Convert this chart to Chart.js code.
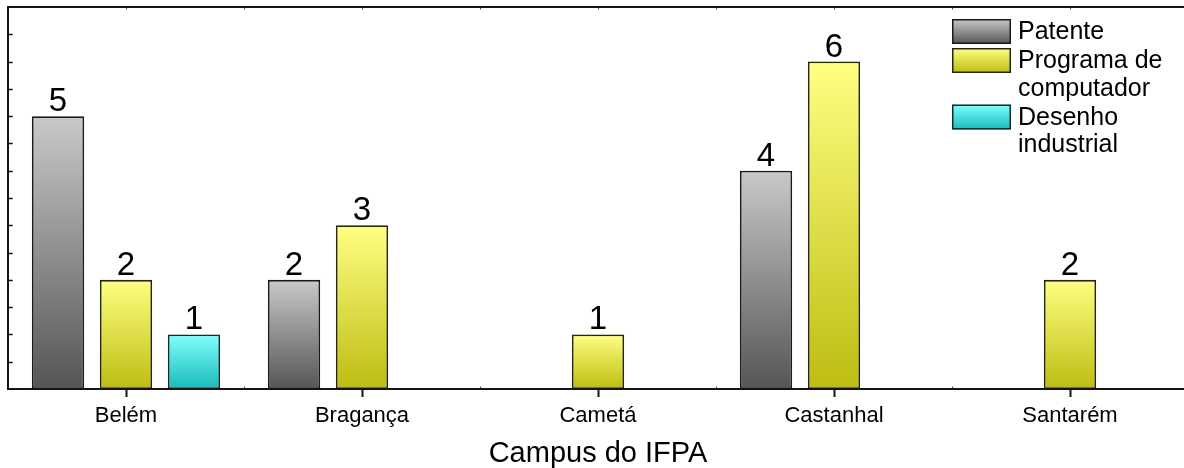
<!DOCTYPE html>
<html lang="pt">
<head>
<meta charset="utf-8">
<title>Registros por campus do IFPA</title>
<script src="https://cdn.jsdelivr.net/npm/chart.js@4.4.1/dist/chart.umd.min.js"></script>
<style>
  html, body { margin: 0; padding: 0; background: #ffffff; overflow: hidden; }
  #wrap { position: absolute; left: 0; top: 0; width: 1190px; height: 468px; }
</style>
</head>
<body>
<div id="wrap"><canvas id="chart" width="1190" height="468"></canvas></div>
<script>
// Campuses on the category axis
const campuses = ['Belém', 'Bragança', 'Cametá', 'Castanhal', 'Santarém'];

// Number of registrations per campus, one array per type (null = no bar)
const patente = [5, 2, null, 4, null];
const programaComputador = [2, 3, 1, 6, 2];
const desenhoIndustrial = [1, null, null, null, null];

// Series names, split into the lines shown in the legend
const seriesNames = [['Patente'], ['Programa de', 'computador'], ['Desenho', 'industrial']];

// Value axis range and the spacing of its minor tick marks
const yMin = 0;
const yMax = 7;
const yTickStep = 0.5;

const FONT = 'Arial, "Liberation Sans", Helvetica, sans-serif';
const INK = '#141414';

// Vertical gradient fills: light at the top of each bar, dark at the base
const palettes = [
  { top: '#c9c9c9', bottom: '#555555', edge: '#1a1a1a' },
  { top: '#ffff82', bottom: '#bdbd12', edge: '#26260a' },
  { top: '#80ffff', bottom: '#1bbaba', edge: '#0d2e2e' }
];

function barGradient(pal) {
  return (ctx) => {
    const chart = ctx.chart;
    if (!chart.chartArea || ctx.type !== 'data' || ctx.raw == null) return pal.top;
    const y = chart.scales.y;
    const top = y.getPixelForValue(ctx.raw);
    const base = y.getPixelForValue(0);
    const g = chart.ctx.createLinearGradient(0, top, 0, base);
    g.addColorStop(0, pal.top);
    g.addColorStop(1, pal.bottom);
    return g;
  };
}

const seriesValues = [patente, programaComputador, desenhoIndustrial];

const datasets = seriesValues.map((values, i) => ({
  label: seriesNames[i].join(' '),
  data: values,
  backgroundColor: barGradient(palettes[i]),
  borderColor: palettes[i].edge,
  borderWidth: 1.8,
  borderSkipped: false,
  categoryPercentage: 0.864,
  barPercentage: 0.77
}));

// Frame: left, top and bottom axis lines with their small tick marks
const framePlugin = {
  id: 'frame',
  afterDraw(chart) {
    const { ctx, chartArea: a, scales } = chart;
    const x = scales.x, y = scales.y;
    ctx.save();
    ctx.strokeStyle = INK;
    ctx.lineCap = 'square';

    // minor ticks on the value axis, pointing into the plot
    ctx.lineWidth = 1.5;
    for (let v = yMin + yTickStep; v < yMax; v += yTickStep) {
      const py = Math.round(y.getPixelForValue(v)) + 0.5;
      ctx.beginPath();
      ctx.moveTo(a.left, py);
      ctx.lineTo(a.left + 4, py);
      ctx.stroke();
    }

    // tiny marks along the top line and at category boundaries on the base line
    ctx.strokeStyle = '#555555';
    ctx.lineWidth = 1;
    for (let i = 0; i < campuses.length; i++) {
      const c = x.getPixelForValue(i);
      const half = x.width / campuses.length / 2;
      [c - half, c].forEach((px) => {
        const rx = Math.round(px) + 0.5;
        ctx.beginPath();
        ctx.moveTo(rx, a.top);
        ctx.lineTo(rx, a.top + 2);
        ctx.stroke();
      });
      const bx = Math.round(c - half) + 0.5;
      if (i > 0) {
        ctx.beginPath();
        ctx.moveTo(bx, a.bottom);
        ctx.lineTo(bx, a.bottom - 2);
        ctx.stroke();
      }
    }

    // axis lines
    ctx.strokeStyle = INK;
    ctx.lineWidth = 2;
    ctx.lineCap = 'butt';
    ctx.beginPath();
    ctx.moveTo(a.left, a.bottom);
    ctx.lineTo(a.left, a.top);
    ctx.lineTo(chart.width, a.top);
    ctx.moveTo(a.left - 1, a.bottom);
    ctx.lineTo(chart.width, a.bottom);
    ctx.stroke();
    ctx.restore();
  }
};

// Value written above every bar
const valueLabelPlugin = {
  id: 'valueLabels',
  afterDatasetsDraw(chart) {
    const { ctx } = chart;
    ctx.save();
    ctx.font = '33px ' + FONT;
    ctx.fillStyle = '#000000';
    ctx.textAlign = 'center';
    ctx.textBaseline = 'alphabetic';
    chart.data.datasets.forEach((ds, di) => {
      const meta = chart.getDatasetMeta(di);
      meta.data.forEach((bar, i) => {
        const v = ds.data[i];
        if (v == null) return;
        ctx.fillText(String(v), bar.x, bar.y - 5);
      });
    });
    ctx.restore();
  }
};

// Legend in the upper right corner with gradient swatches and wrapped names
const legendPlugin = {
  id: 'boxLegend',
  afterDraw(chart) {
    const { ctx } = chart;
    const boxLeft = 952, boxW = 59, boxH = 25;
    const textLeft = 1018;
    const lineH = 27.5;
    let lineTop = 19;
    ctx.save();
    ctx.font = '25px ' + FONT;
    ctx.textAlign = 'left';
    ctx.textBaseline = 'middle';
    seriesNames.forEach((lines, i) => {
      const pal = palettes[i];
      const g = ctx.createLinearGradient(0, lineTop, 0, lineTop + boxH);
      g.addColorStop(0, pal.top);
      g.addColorStop(1, pal.bottom);
      ctx.fillStyle = g;
      ctx.fillRect(boxLeft, lineTop, boxW, boxH);
      ctx.strokeStyle = pal.edge;
      ctx.lineWidth = 1.5;
      ctx.strokeRect(boxLeft + 0.75, lineTop + 0.75, boxW - 1.5, boxH - 1.5);
      ctx.fillStyle = '#000000';
      lines.forEach((t, k) => {
        ctx.fillText(t, textLeft, lineTop + boxH / 2 + 1 + k * lineH);
      });
      lineTop += lines.length * lineH + 1.5;
    });
    ctx.restore();
  }
};

new Chart(document.getElementById('chart'), {
  type: 'bar',
  data: { labels: campuses, datasets },
  options: {
    responsive: false,
    devicePixelRatio: 1,
    animation: false,
    layout: { padding: { left: 8, top: 7, right: 2, bottom: 0 } },
    plugins: {
      legend: { display: false },
      tooltip: { enabled: false },
      title: { display: false }
    },
    scales: {
      x: {
        type: 'category',
        offset: true,
        border: { display: false },
        grid: {
          display: true,
          offset: false,
          drawOnChartArea: false,
          drawTicks: true,
          tickLength: 8,
          tickWidth: 2,
          color: INK
        },
        ticks: {
          color: '#000000',
          font: { family: FONT, size: 22 },
          padding: 6,
          maxRotation: 0,
          autoSkip: false
        },
        title: {
          display: true,
          text: 'Campus do IFPA',
          color: '#000000',
          font: { family: FONT, size: 29, lineHeight: 1 },
          padding: { top: 0, bottom: 0 }
        },
        afterFit(scale) { scale.height = 79; }
      },
      y: {
        display: false,
        min: yMin,
        max: yMax,
        ticks: { stepSize: yTickStep }
      }
    }
  },
  plugins: [framePlugin, valueLabelPlugin, legendPlugin]
});
</script>
</body>
</html>
